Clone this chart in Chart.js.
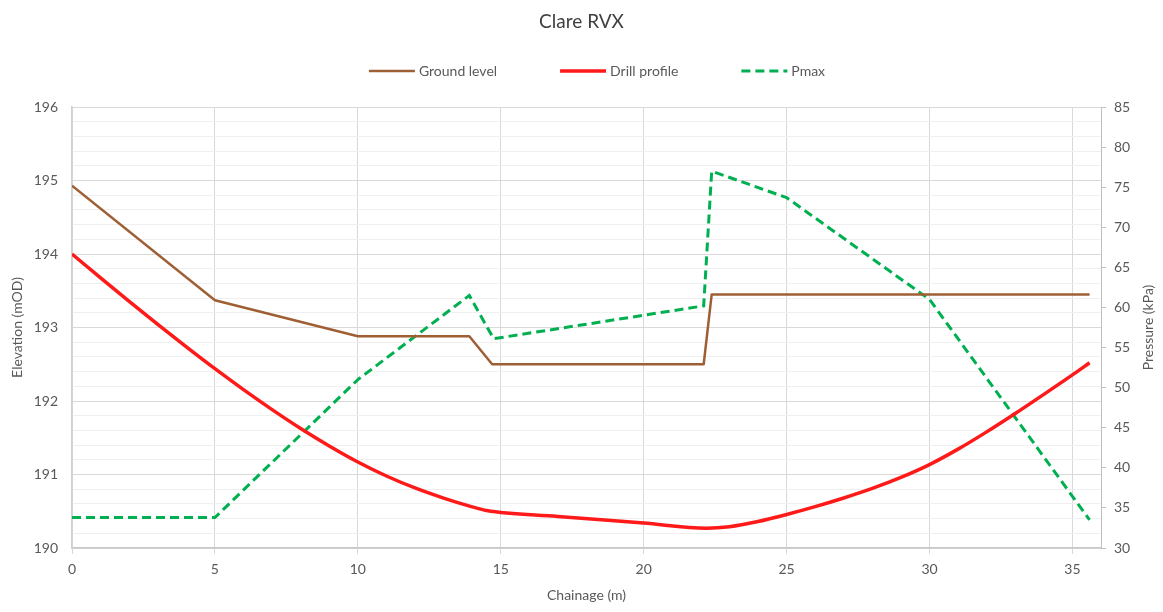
<!DOCTYPE html>
<html><head><meta charset="utf-8">
<script src="https://cdn.jsdelivr.net/npm/chart.js@4.4.0/dist/chart.umd.min.js"></script>
<style>html,body{margin:0;padding:0;background:#fff}canvas{display:block}</style>
</head><body>
<canvas id="c" width="1163" height="612"></canvas>
<script>
// ---- data ----
const chartTitle = 'Clare RVX';
const seriesNames = ['Ground level', 'Drill profile', 'Pmax'];
const axisTitles = { x: 'Chainage (m)', yLeft: 'Elevation (mOD)', yRight: 'Pressure (kPa)' };

const groundX = [0, 5, 10, 13.9, 14.7, 22.1, 22.38, 35.6];
const groundY = [194.93, 193.37, 192.88, 192.88, 192.50, 192.50, 193.45, 193.45];

const drillX = [0, 1, 2, 3, 4, 5, 6, 7, 8, 9, 10, 11, 12, 13, 14, 14.5, 17, 20, 22.2, 23, 24, 25, 26, 27, 28, 29, 30, 31, 32, 33, 34, 35, 35.6];
const drillY = [194.0, 193.675, 193.355, 193.042, 192.737, 192.44, 192.155, 191.883, 191.626, 191.388, 191.17, 190.98, 190.817, 190.679, 190.56, 190.51, 190.43, 190.34, 190.27, 190.29, 190.36, 190.455, 190.562, 190.68, 190.81, 190.96, 191.135, 191.345, 191.58, 191.83, 192.09, 192.355, 192.52];

const pmaxX = [0, 5, 10, 13.9, 14.75, 22.1, 22.38, 25, 30, 35.6];
const pmaxY = [33.8, 33.8, 51.0, 61.5, 56.1, 60.2, 77.0, 73.7, 61.0, 33.5];

const xRange = [0, 36];
const elevRange = [190, 196];
const pressRange = [30, 85];

const toPts = (xs, ys) => xs.map((x, i) => ({ x, y: ys[i] }));

const FONT = 'Lato, "Open Sans", sans-serif';
const TXT = '#595959';

const customLegend = {
  id: 'customLegend',
  afterDraw(chart, args, o) {
    const ctx = chart.ctx;
    ctx.save();
    ctx.font = o.size + 'px ' + FONT;
    ctx.textBaseline = 'middle';
    ctx.textAlign = 'left';
    const items = chart.data.datasets.map(ds => ({ ds, w: ctx.measureText(ds.label).width }));
    const total = items.reduce((a, it) => a + o.lineLen + o.gap + it.w, 0) + o.spacing * (items.length - 1);
    let x = o.centerX - total / 2;
    items.forEach(({ ds, w }) => {
      ctx.beginPath();
      ctx.strokeStyle = ds.borderColor;
      ctx.lineWidth = ds.borderWidth;
      ctx.setLineDash(ds.borderDash || []);
      ctx.moveTo(x, o.y);
      ctx.lineTo(x + o.lineLen, o.y);
      ctx.stroke();
      ctx.setLineDash([]);
      ctx.fillStyle = o.color;
      ctx.fillText(ds.label, x + o.lineLen + o.gap, o.y);
      x += o.lineLen + o.gap + w + o.spacing;
    });
    ctx.restore();
  }
};

const rightTitle = {
  id: 'rightTitle',
  afterDraw(chart, args, o) {
    const ctx = chart.ctx;
    const ca = chart.chartArea;
    ctx.save();
    ctx.font = o.size + 'px ' + FONT;
    ctx.fillStyle = o.color;
    ctx.textAlign = 'center';
    ctx.textBaseline = 'middle';
    ctx.translate(o.x, (ca.top + ca.bottom) / 2);
    ctx.rotate(-Math.PI / 2);
    ctx.fillText(o.text, 0, 0);
    ctx.restore();
  }
};

const isInt = v => Math.abs(v - Math.round(v)) < 1e-6;

new Chart(document.getElementById('c'), {
  type: 'line',
  data: {
    datasets: [
      { label: seriesNames[0], data: toPts(groundX, groundY), yAxisID: 'y', borderColor: '#9E5F34', borderWidth: 2.5, pointRadius: 0, tension: 0, borderJoinStyle: 'round' },
      { label: seriesNames[1], data: toPts(drillX, drillY), yAxisID: 'y', borderColor: '#FF1A1A', borderWidth: 3.5, pointRadius: 0, cubicInterpolationMode: 'monotone', borderJoinStyle: 'round' },
      { label: seriesNames[2], data: toPts(pmaxX, pmaxY), yAxisID: 'y2', borderColor: '#00B050', borderWidth: 3, borderDash: [9, 5], pointRadius: 0, tension: 0 }
    ]
  },
  options: {
    responsive: false,
    animation: false,
    layout: { padding: 0 },
    plugins: {
      legend: { display: false },
      tooltip: { enabled: false },
      title: { display: true, text: chartTitle, color: '#404040', font: { family: FONT, size: 19, weight: 'normal' }, padding: { top: 10, bottom: 74.2 } },
      customLegend: { size: 14, color: TXT, lineLen: 46, gap: 4, spacing: 63, centerX: 597, y: 71 },
      rightTitle: { text: axisTitles.yRight, size: 14, color: TXT, x: 1148 }
    },
    scales: {
      x: {
        type: 'linear', position: 'bottom', min: xRange[0], max: xRange[1],
        afterFit: s => { s.height = 64; },
        ticks: { stepSize: 5, includeBounds: false, color: TXT, font: { family: FONT, size: 14 }, padding: 7, maxRotation: 0 },
        grid: { color: '#d9d9d9', lineWidth: 1, drawTicks: true, tickLength: 6 },
        border: { display: true, color: '#c8c8c8', width: 1.5 },
        title: { display: true, text: axisTitles.x, color: TXT, font: { family: FONT, size: 14 }, padding: { top: 0, bottom: 8 } }
      },
      y: {
        type: 'linear', position: 'left', min: elevRange[0], max: elevRange[1],
        afterFit: s => { s.width = 72; },
        ticks: { stepSize: 0.2, autoSkip: false, color: TXT, font: { family: FONT, size: 14 }, padding: 14,
          callback: v => isInt(v) ? String(Math.round(v)) : '' },
        grid: { drawTicks: false, color: c => (c.tick && isInt(c.tick.value)) ? '#d9d9d9' : '#efefef', lineWidth: 1 },
        border: { display: true, color: '#d0d0d0', width: 1.5 },
        title: { display: true, text: axisTitles.yLeft, color: TXT, font: { family: FONT, size: 14 }, padding: { top: 9, bottom: 0 } }
      },
      y2: {
        type: 'linear', position: 'right', min: pressRange[0], max: pressRange[1],
        afterFit: s => { s.width = 62; },
        ticks: { stepSize: 5, color: TXT, font: { family: FONT, size: 14 }, padding: 8 },
        grid: { drawOnChartArea: false, drawTicks: true, tickLength: 5, color: '#bfbfbf' },
        border: { display: true, color: '#bfbfbf', width: 1 }
      }
    }
  },
  plugins: [customLegend, rightTitle]
});
</script>
</body></html>
